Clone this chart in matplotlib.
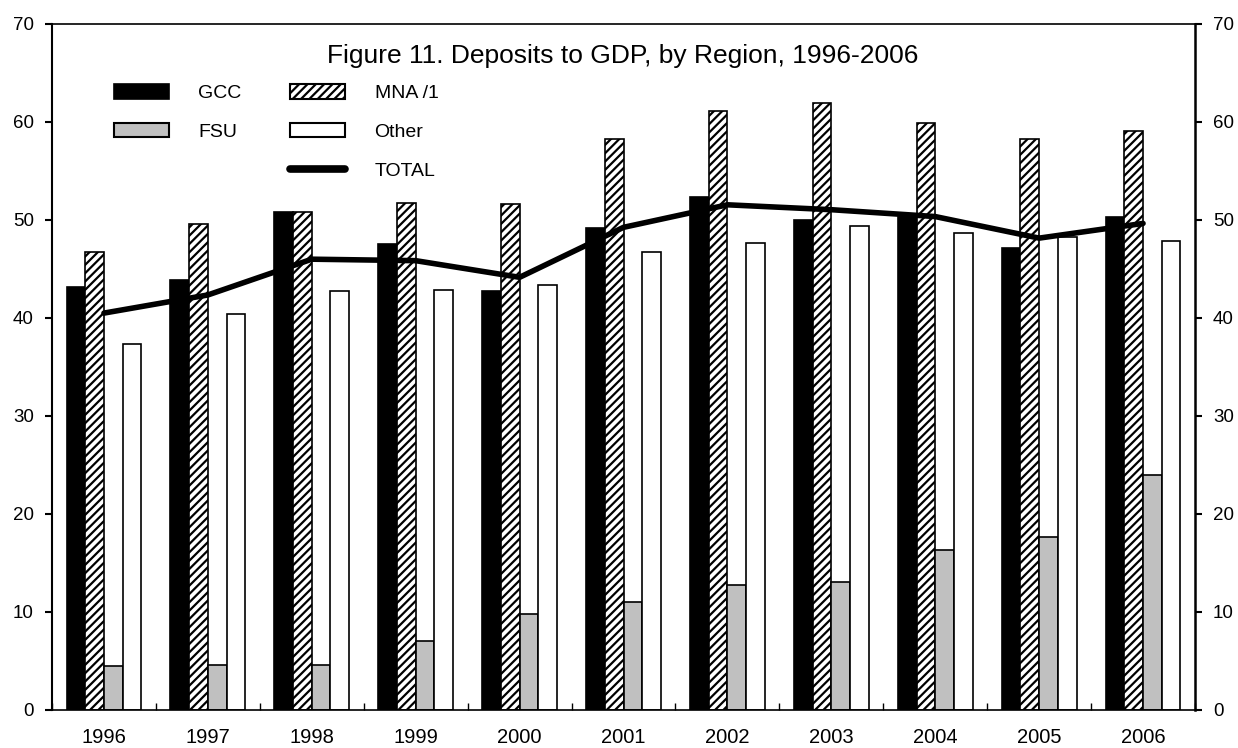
import matplotlib
matplotlib.use("Agg")
import matplotlib.pyplot as plt
import numpy as np
from matplotlib.patches import Patch
from matplotlib.lines import Line2D

plt.rcParams['font.family'] = ['Liberation Sans', 'DejaVu Sans']
plt.rcParams['hatch.linewidth'] = 1.6

years = ['1996', '1997', '1998', '1999', '2000', '2001', '2002', '2003', '2004', '2005', '2006']
gcc = [43.1, 43.8, 50.75, 47.5, 42.75, 49.1, 52.3, 50.0, 50.3, 47.1, 50.25]
mna = [46.7, 49.5, 50.75, 51.7, 51.6, 58.2, 61.1, 61.9, 59.8, 58.2, 59.0]
fsu = [4.4, 4.55, 4.55, 6.95, 9.7, 10.97, 12.7, 13.0, 16.25, 17.6, 23.9]
other = [37.3, 40.4, 42.75, 42.8, 43.3, 46.7, 47.6, 49.35, 48.6, 48.2, 47.85]
total = [40.45, 42.3, 45.95, 45.8, 44.1, 49.2, 51.5, 51.0, 50.3, 48.1, 49.6]

W, H = 1238, 748
fig = plt.figure(figsize=(W / 100, H / 100), dpi=100)
ax = fig.add_axes([52 / W, 1 - 709.5 / H, (1195 - 52) / W, (709.5 - 23.5) / H])

x = np.arange(len(years))
w = 0.18
offs = [-1.5 * w, -0.5 * w, 0.5 * w, 1.5 * w]

ax.bar(x + offs[0], gcc, w, color='black', edgecolor='black', linewidth=1.2, zorder=2)
ax.bar(x + offs[1], mna, w, color='white', edgecolor='black', hatch='////', linewidth=1.2, zorder=2)
ax.bar(x + offs[2], fsu, w, color='#c0c0c0', edgecolor='black', linewidth=1.2, zorder=2)
ax.bar(x + offs[3], other, w, color='white', edgecolor='black', linewidth=1.2, zorder=2)
ax.plot(x, total, color='black', linewidth=4, solid_capstyle='round', zorder=3)

ax.set_xlim(-0.5, len(years) - 0.5)
ax.set_ylim(0, 70)
ax.set_yticks(range(0, 71, 10))
ax.set_xticks(x)
ax.set_xticklabels(years, fontsize=14.5)
ax.set_xticks(np.arange(-0.5, len(years)), minor=True)
ax.tick_params(axis='x', which='major', length=0, pad=13)
ax.tick_params(axis='x', which='minor', length=5, direction='in', width=1)
ax.tick_params(axis='y', which='major', labelsize=13.5, length=5, width=1.5,
               direction='out', right=True, labelright=True, pad=8)
for s in ax.spines.values():
    s.set_linewidth(1.2)
ax.spines['left'].set_linewidth(1.5)
ax.spines['right'].set_linewidth(1.8)

fig.text(623 / W, 1 - 56 / H, 'Figure 11. Deposits to GDP, by Region, 1996-2006',
         ha='center', va='center', fontsize=19)

handles = [
    Patch(facecolor='black', edgecolor='black', linewidth=1.2),
    Patch(facecolor='#c0c0c0', edgecolor='black', linewidth=1.5),
    Patch(facecolor='none', edgecolor='none'),
    Patch(facecolor='white', edgecolor='black', hatch='////', linewidth=1.5),
    Patch(facecolor='white', edgecolor='black', linewidth=1.5),
    Line2D([], [], color='black', linewidth=5.5, solid_capstyle='round'),
]
labels = ['GCC', 'FSU', '', 'MNA /1', 'Other', 'TOTAL']
fig.legend(handles, labels, ncol=2, loc='upper left', bbox_to_anchor=(96 / W, 1 - 67 / H),
           frameon=False, fontsize=14, handlelength=2.85, handleheight=0.75,
           handletextpad=1.5, columnspacing=2.5, labelspacing=1.07, borderpad=0.4)

fig.savefig('out.png', dpi=100)
